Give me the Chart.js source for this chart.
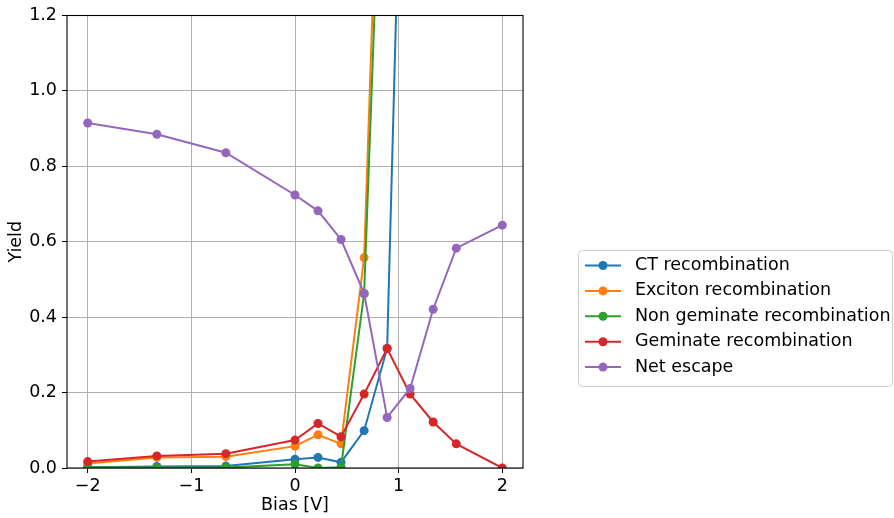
<!DOCTYPE html>
<html>
<head>
<meta charset="utf-8">
<script src="https://cdn.jsdelivr.net/npm/chart.js@4"></script>
<style>
  html, body { margin: 0; padding: 0; background: #fff; }
  canvas { display: block; }
</style>
</head>
<body>
<canvas id="myChart" width="894" height="518"></canvas>
<script>
// Valores
var biasV = [-2, -1.333, -0.667, 0, 0.222, 0.444, 0.667, 0.889, 1.111, 1.333, 1.556, 2];
var ctRecomb = [0.002, 0.004, 0.005, 0.023, 0.028, 0.015, 0.099, 0.317, 2.6, 2.8, 2.9, 3.0];
var excitonRecomb = [0.012, 0.028, 0.030, 0.058, 0.088, 0.064, 0.558, 2.36, 2.5, 2.6, 2.7, 2.8];
var nonGemRecomb = [0.002, 0.001, 0.001, 0.010, 0.000, 0.002, 0.462, 2.11, 2.3, 2.4, 2.5, 2.6];
var geminateRecomb = [0.017, 0.032, 0.038, 0.074, 0.118, 0.083, 0.196, 0.317, 0.196, 0.122, 0.064, 0.000];
var netEscape = [0.915, 0.885, 0.836, 0.724, 0.682, 0.606, 0.463, 0.134, 0.211, 0.421, 0.583, 0.644];

var seriesNames = ["CT recombination", "Exciton recombination", "Non geminate recombination", "Geminate recombination", "Net escape"];
var seriesColors = ["#1f77b4", "#ff7f0e", "#2ca02c", "#d62728", "#9467bd"];
var xTicks = [-2, -1, 0, 1, 2];
var yTicks = [0, 0.2, 0.4, 0.6, 0.8, 1.0, 1.2];

var FONT = "'DejaVu Sans', sans-serif";
var FSIZE = 17.5;

function toPoints(ys) {
    return biasV.map(function(x, i) { return { x: x, y: ys[i] }; });
}

var allSeries = [ctRecomb, excitonRecomb, nonGemRecomb, geminateRecomb, netEscape];
var datasets = allSeries.map(function(ys, i) {
    return {
        label: seriesNames[i],
        data: toPoints(ys),
        borderColor: seriesColors[i],
        backgroundColor: seriesColors[i],
        pointBackgroundColor: seriesColors[i],
        pointBorderWidth: 0,
        pointRadius: 4.5,
        borderWidth: 2,
        tension: 0,
        order: allSeries.length - 1 - i // el último queda encima, como en matplotlib
    };
});

// marco de los ejes (cuatro lados)
var framePlugin = {
    id: 'frame',
    afterDatasetsDraw: function(chart) {
        var a = chart.chartArea, ctx = chart.ctx;
        ctx.save();
        ctx.strokeStyle = '#000';
        ctx.lineWidth = 1.1;
        ctx.strokeRect(a.left, a.top, a.right - a.left, a.bottom - a.top);
        ctx.restore();
    }
};

// leyenda fuera del área, a la derecha
var legendPlugin = {
    id: 'sideLegend',
    afterDraw: function(chart) {
        var ctx = chart.ctx;
        var bx = 578.5, by = 250.5, bw = 314, bh = 136;
        ctx.save();
        ctx.fillStyle = 'rgba(255,255,255,0.8)';
        ctx.strokeStyle = '#cccccc';
        ctx.lineWidth = 1;
        ctx.beginPath();
        ctx.roundRect(bx, by, bw, bh, 4);
        ctx.fill();
        ctx.stroke();
        ctx.font = FSIZE + 'px ' + FONT;
        ctx.textBaseline = 'middle';
        ctx.textAlign = 'left';
        chart.data.datasets.forEach(function(ds, i) {
            var y = 265.5 + i * 25.4;
            ctx.strokeStyle = ds.borderColor;
            ctx.lineWidth = 2;
            ctx.beginPath();
            ctx.moveTo(585, y);
            ctx.lineTo(621, y);
            ctx.stroke();
            ctx.fillStyle = ds.borderColor;
            ctx.beginPath();
            ctx.arc(603, y, 4.5, 0, Math.PI * 2);
            ctx.fill();
            ctx.fillStyle = '#000';
            ctx.fillText(ds.label, 635, y);
        });
        ctx.restore();
    }
};

var ctx = document.getElementById('myChart').getContext('2d');
var myChart = new Chart(ctx, {
    type: 'line',
    data: { datasets: datasets },
    plugins: [framePlugin, legendPlugin],
    options: {
        responsive: false,
        animation: false,
        devicePixelRatio: 1,
        layout: { padding: { top: 14, right: 371, left: 0, bottom: 0 } },
        plugins: {
            legend: { display: false },
            tooltip: { enabled: false }
        },
        scales: {
            x: {
                type: 'linear',
                min: -2.2,
                max: 2.2,
                afterBuildTicks: function(scale) {
                    scale.ticks = xTicks.map(function(v) { return { value: v }; });
                },
                afterFit: function(scale) { scale.height = 50; },
                grid: { color: '#b0b0b0', lineWidth: 1, tickColor: '#000', tickLength: 5, tickWidth: 1 },
                border: { display: false },
                ticks: {
                    color: '#000',
                    padding: 3,
                    maxRotation: 0,
                    font: { family: FONT, size: FSIZE },
                    callback: function(v) { return String(v).replace('-', '\u2212'); }
                },
                title: {
                    display: true,
                    text: 'Bias [V]',
                    color: '#000',
                    font: { family: FONT, size: FSIZE },
                    padding: { top: 0, bottom: 2 }
                }
            },
            y: {
                min: 0,
                max: 1.2,
                afterBuildTicks: function(scale) {
                    scale.ticks = yTicks.map(function(v) { return { value: v }; });
                },
                afterFit: function(scale) { scale.width = 67; },
                grid: { color: '#b0b0b0', lineWidth: 1, tickColor: '#000', tickLength: 5, tickWidth: 1 },
                border: { display: false },
                ticks: {
                    color: '#000',
                    padding: 5,
                    font: { family: FONT, size: FSIZE },
                    callback: function(v) { return Number(v).toFixed(1); }
                },
                title: {
                    display: true,
                    text: 'Yield',
                    color: '#000',
                    font: { family: FONT, size: FSIZE },
                    padding: { top: 6, bottom: 0 }
                }
            }
        }
    }
});
</script>
</body>
</html>
